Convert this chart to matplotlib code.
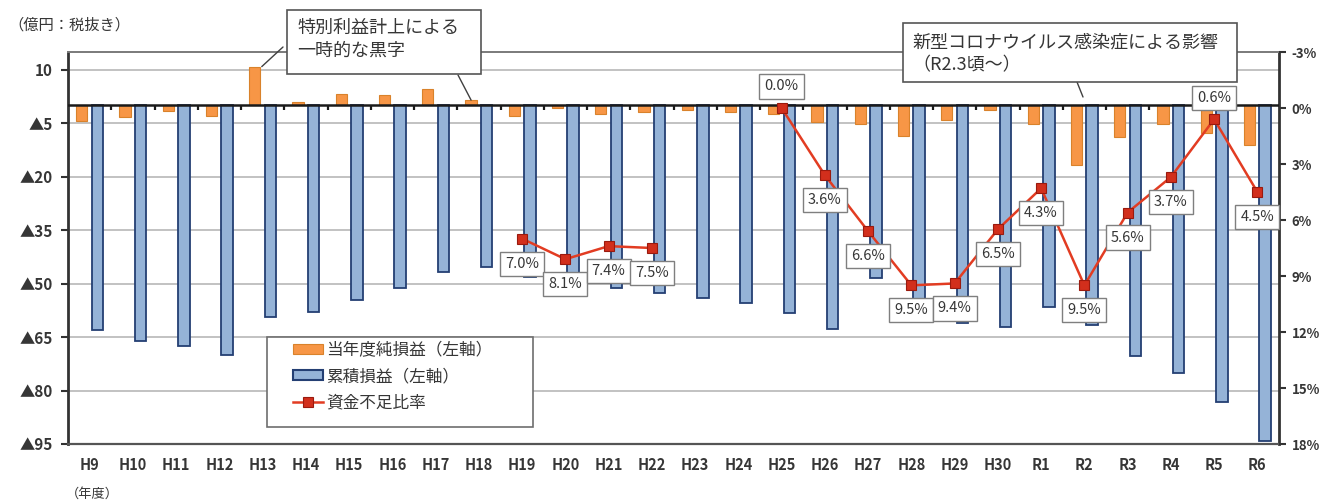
import numpy as np
import matplotlib
matplotlib.use("Agg")
import matplotlib.pyplot as plt
from matplotlib.patches import Rectangle, Patch
from matplotlib.lines import Line2D

plt.rcParams['font.family'] = ['Noto Sans CJK JP', 'DejaVu Sans']

# ---- data -------------------------------------------------------------
years = ["H9", "H10", "H11", "H12", "H13", "H14", "H15", "H16", "H17", "H18",
         "H19", "H20", "H21", "H22", "H23", "H24", "H25", "H26", "H27", "H28",
         "H29", "H30", "R1", "R2", "R3", "R4", "R5", "R6"]

# 当年度純損益 (億円)
annual = [-4.3, -3.3, -1.5, -2.9, 10.9, 1.1, 3.2, 2.9, 4.5, 1.5,
          -3.0, -0.8, -2.4, -1.7, -1.4, -1.7, -2.5, -4.6, -5.1, -8.6,
          -4.2, -1.4, -5.1, -16.6, -8.8, -5.1, -7.7, -11.1]

# 累積損益 (億円)
cumulative = [-63.0, -66.1, -67.6, -70.0, -59.3, -57.9, -54.6, -51.3, -46.8, -45.2,
              -48.0, -48.8, -51.3, -52.7, -54.1, -55.5, -58.1, -62.7, -48.3, -56.9,
              -61.0, -62.1, -56.6, -61.5, -70.2, -75.1, -83.1, -94.1]

# 資金不足比率 (%)
nan = np.nan
shortfall = [nan, nan, nan, nan, nan, nan, nan, nan, nan, nan,
             7.0, 8.1, 7.4, 7.5, nan, nan, 0.0, 3.6, 6.6, 9.5,
             9.4, 6.5, 4.3, 9.5, 5.6, 3.7, 0.6, 4.5]

left_ticks = [10, -5, -20, -35, -50, -65, -80, -95]
right_ticks = [-3, 0, 3, 6, 9, 12, 15, 18]

legend_labels = ["当年度純損益（左軸）", "累積損益（左軸）", "資金不足比率"]

# ---- styling ----------------------------------------------------------
W, H = 1320, 504
TXT = '#363636'
ORANGE, ORANGE_EDGE = '#F79646', '#D9822B'
BLUE, BLUE_EDGE = '#95B3D7', '#243F73'
RED_LINE, RED_MK, RED_MK_EDGE = '#E23C22', '#D22F1C', '#9A1A0E'


def fx(px):
    return px / W


def fy(py):
    return 1 - py / H


fig = plt.figure(figsize=(W / 100, H / 100), dpi=100)
ax = fig.add_axes([fx(68), fy(444), (1279 - 68) / W, (444 - 52) / H])

x = np.arange(len(years))
ax.bar(x - 0.18, annual, 0.26, color=ORANGE, edgecolor=ORANGE_EDGE,
       linewidth=0.8, zorder=2)
ax.bar(x + 0.18, cumulative, 0.27, color=BLUE, edgecolor=BLUE_EDGE,
       linewidth=1.3, zorder=2)

ax.set_xlim(-0.5, len(years) - 0.5)
ax.set_ylim(-95, 15)
ax.set_yticks(left_ticks)
ax.set_yticklabels([f"{t}" if t > 0 else f"▲{abs(t)}" for t in left_ticks],
                   fontweight='bold')
ax.set_xticks(x)
ax.set_xticklabels(years, fontweight='bold')
ax.yaxis.grid(True, color='#BDBDBD', linewidth=1.3)
ax.set_axisbelow(True)
ax.tick_params(axis='x', length=0, pad=9, labelsize=10.5, labelcolor=TXT)
ax.tick_params(axis='y', direction='out', length=5, width=1.5, color='#333333',
               pad=6, labelsize=11, labelcolor=TXT)

# axis line through zero with category separators
ax.axhline(0, color='#1A1A1A', linewidth=1.8, zorder=3)
ax.vlines(np.arange(1, len(years)) - 0.5, -1.3, 0, color='#1A1A1A',
          linewidth=1.6, zorder=3)

for side, col, lw in [('left', '#333333', 2.0), ('right', '#333333', 2.0),
                      ('bottom', '#555555', 1.6), ('top', '#7A7A7A', 1.4)]:
    ax.spines[side].set_color(col)
    ax.spines[side].set_linewidth(lw)

# secondary axis: shortfall ratio (inverted)
ax2 = ax.twinx()
ax2.set_ylim(18, -3)
ax2.set_yticks(right_ticks)
ax2.set_yticklabels([f"{t}%" for t in right_ticks], fontweight='bold')
ax2.tick_params(axis='y', direction='out', length=5, width=1.5, color='#333333',
                pad=4, labelsize=9.5, labelcolor=TXT)
for side in ax2.spines:
    ax2.spines[side].set_visible(False)

ax2.plot(x, shortfall, color=RED_LINE, linewidth=1.8, marker='s', markersize=7,
         markerfacecolor=RED_MK, markeredgecolor=RED_MK_EDGE, markeredgewidth=0.8,
         zorder=5)

for i, v in enumerate(shortfall):
    if np.isnan(v):
        continue
    dy = 15.5 if v < 1 else -18
    ax2.annotate(f"{v:.1f}%", (i, v), xytext=(0, dy), textcoords='offset points',
                 ha='center', va='center', fontsize=10.5, color=TXT,
                 bbox=dict(boxstyle='square,pad=0.35', fc='white',
                           ec='#7F7F7F', lw=1.0),
                 zorder=6)

# callout leader lines
line_kw = dict(arrowstyle='-', color='#404040', lw=1.0, shrinkA=0, shrinkB=0)
ax.annotate('', xy=(4 - 0.18 + 0.16, annual[4]), xycoords='data',
            xytext=(283, H - 47), textcoords='figure pixels',
            arrowprops=line_kw, annotation_clip=False)
ax.annotate('', xy=(9 - 0.18, annual[9]), xycoords='data',
            xytext=(458, H - 75), textcoords='figure pixels',
            arrowprops=line_kw, annotation_clip=False)
ax.annotate('', xy=(1083, H - 97), xycoords='figure pixels',
            xytext=(1077, H - 82), textcoords='figure pixels',
            arrowprops=line_kw, annotation_clip=False)

# callout boxes
fig.add_artist(Rectangle((fx(287), fy(74)), (481 - 287) / W, (74 - 10) / H,
                         transform=fig.transFigure, fc='white', ec='#555555',
                         lw=1.2, zorder=6))
fig.text(fx(297), fy(28), "特別利益計上による", fontsize=13, color=TXT,
         ha='left', va='center', zorder=7)
fig.text(fx(297), fy(51), "一時的な黒字", fontsize=13, color=TXT,
         ha='left', va='center', zorder=7)

fig.add_artist(Rectangle((fx(903), fy(82)), (1237 - 903) / W, (82 - 23) / H,
                         transform=fig.transFigure, fc='white', ec='#555555',
                         lw=1.2, zorder=6))
fig.text(fx(912), fy(42), "新型コロナウイルス感染症による影響", fontsize=13,
         color=TXT, ha='left', va='center', zorder=7)
fig.text(fx(912), fy(65), "（R2.3頃～）", fontsize=13, color=TXT,
         ha='left', va='center', zorder=7)

# legend
fig.add_artist(Rectangle((fx(267), fy(427)), (533 - 267) / W, (427 - 337) / H,
                         transform=fig.transFigure, fc='white', ec='#6E6E6E',
                         lw=1.2, zorder=4))
handles = [
    Patch(facecolor=ORANGE, edgecolor=ORANGE_EDGE, linewidth=0.8),
    Patch(facecolor=BLUE, edgecolor=BLUE_EDGE, linewidth=1.5),
    Line2D([], [], color=RED_LINE, linewidth=1.8, marker='s', markersize=7,
           markerfacecolor=RED_MK, markeredgecolor=RED_MK_EDGE, markeredgewidth=0.8),
]
leg = fig.legend(handles, legend_labels, loc='upper left',
                 bbox_to_anchor=(fx(293), fy(342)), frameon=False, fontsize=12,
                 borderpad=0, borderaxespad=0, handlelength=1.8, handleheight=0.55,
                 handletextpad=0.2, labelspacing=0.55)
for t in leg.get_texts():
    t.set_color(TXT)
leg.set_zorder(5)

# unit labels
fig.text(fx(8), fy(25), "（億円：税抜き）", fontsize=11, color=TXT,
         ha='left', va='center')
fig.text(fx(66), fy(494), "（年度）", fontsize=9.5, color=TXT,
         ha='left', va='center')

fig.savefig("out.png", dpi=100)
